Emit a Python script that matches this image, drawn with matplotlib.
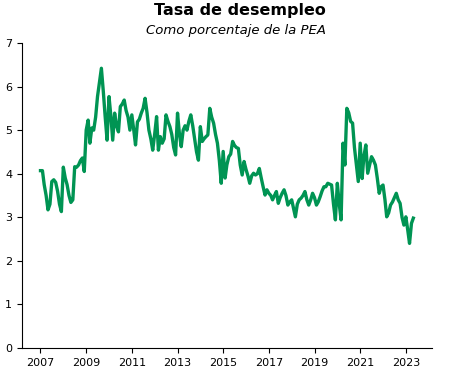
import matplotlib
matplotlib.use("Agg")
import matplotlib.pyplot as plt
import matplotlib.dates as mdates
import pandas as pd

# tasa de desocupacion mensual, ene-2007 a may-2023
y2007 = [4.07, 4.07, 3.75, 3.5, 3.17, 3.3, 3.82, 3.86, 3.8, 3.6, 3.3, 3.13]
y2008 = [4.15, 3.9, 3.75, 3.5, 3.34, 3.4, 4.16, 4.15, 4.2, 4.3, 4.36, 4.05]
y2009 = [5.0, 5.23, 4.7, 5.05, 5.0, 5.3, 5.77, 6.1, 6.42, 5.9, 5.3, 4.77]
y2010 = [5.77, 5.3, 4.77, 5.39, 5.1, 4.96, 5.54, 5.6, 5.69, 5.45, 5.3, 5.0]
y2011 = [5.35, 5.0, 4.66, 5.19, 5.25, 5.39, 5.5, 5.73, 5.4, 5.0, 4.8, 4.54]
y2012 = [4.9, 5.31, 4.54, 4.85, 4.7, 4.8, 5.35, 5.2, 5.08, 4.9, 4.6, 4.43]
y2013 = [5.39, 4.9, 4.62, 5.0, 5.1, 5.0, 5.2, 5.35, 5.1, 4.8, 4.5, 4.31]
y2014 = [5.08, 4.74, 4.8, 4.85, 4.89, 5.5, 5.3, 5.16, 4.9, 4.7, 4.3, 3.78]
y2015 = [4.51, 3.9, 4.2, 4.39, 4.45, 4.74, 4.65, 4.6, 4.58, 4.2, 3.97, 4.28]
y2016 = [4.1, 3.95, 3.78, 3.95, 4.01, 3.97, 4.0, 4.12, 3.9, 3.7, 3.51, 3.63]
y2017 = [3.55, 3.5, 3.4, 3.5, 3.59, 3.32, 3.45, 3.55, 3.63, 3.5, 3.28, 3.35]
y2018 = [3.4, 3.2, 3.01, 3.3, 3.4, 3.44, 3.5, 3.59, 3.4, 3.28, 3.4, 3.55]
y2019 = [3.45, 3.28, 3.35, 3.47, 3.6, 3.7, 3.7, 3.78, 3.76, 3.74, 3.3, 2.94]
y2020 = [3.78, 3.3, 2.94, 4.7, 4.2, 5.5, 5.4, 5.2, 5.16, 4.6, 4.2, 3.82]
y2021 = [4.7, 3.89, 4.4, 4.66, 4.01, 4.2, 4.39, 4.31, 4.2, 3.9, 3.55, 3.7]
y2022 = [3.74, 3.4, 3.01, 3.1, 3.28, 3.35, 3.45, 3.55, 3.4, 3.32, 3.0, 2.82]
y2023 = [3.01, 2.7, 2.4, 2.86, 2.98]

tasa = (y2007 + y2008 + y2009 + y2010 + y2011 + y2012 + y2013 + y2014
        + y2015 + y2016 + y2017 + y2018 + y2019 + y2020 + y2021 + y2022 + y2023)
fechas = pd.date_range("2007-01-01", periods=len(tasa), freq="MS")
anios = list(range(2007, 2024, 2))

fig = plt.figure(figsize=(4.65, 3.77), dpi=100)
ax = fig.add_axes([0.047, 0.077, 0.882, 0.809])

ax.plot(fechas, tasa, color="#009453", linewidth=2.4)

ax.set_ylim(0, 7)
ax.set_yticks(range(0, 8))
ax.set_xticks([pd.Timestamp(f"{a}-01-01") for a in anios])
ax.xaxis.set_major_formatter(mdates.DateFormatter("%Y"))
ax.tick_params(labelsize=8)
ax.spines["top"].set_visible(False)
ax.spines["right"].set_visible(False)

fig.text(0.515, 0.972, "Tasa de desempleo", ha="center", va="center",
         fontsize=11.5, fontweight="bold")
fig.text(0.507, 0.92, "Como porcentaje de la PEA", ha="center", va="center",
         fontsize=9.5, style="italic")

fig.savefig("out.png", dpi=100)
